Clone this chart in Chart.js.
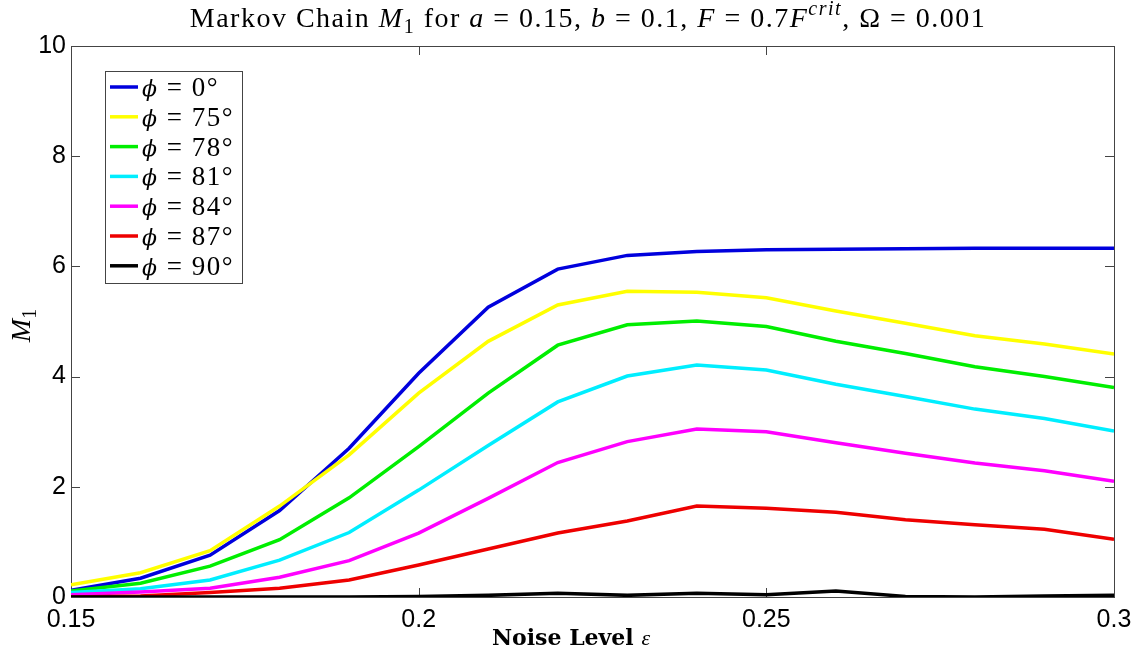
<!DOCTYPE html>
<html>
<head>
<meta charset="utf-8">
<script src="https://cdn.jsdelivr.net/npm/chart.js@4.4.1/dist/chart.umd.min.js"></script>
<style>
  html, body { margin: 0; padding: 0; background: #fff; }
  #wrap { width: 1142px; height: 659px; }
</style>
</head>
<body>
<div id="wrap"><canvas id="grafico" width="1142" height="659"></canvas></div>
<script>
// --- datos ---
const ruido = [0.15, 0.16, 0.17, 0.18, 0.19, 0.20, 0.21, 0.22, 0.23, 0.24, 0.25, 0.26, 0.27, 0.28, 0.29, 0.30];

const phi0  = [0.12, 0.34, 0.76, 1.57, 2.70, 4.06, 5.26, 5.95, 6.20, 6.27, 6.30, 6.31, 6.32, 6.33, 6.33, 6.33];
const phi75 = [0.22, 0.44, 0.84, 1.65, 2.58, 3.70, 4.64, 5.30, 5.55, 5.53, 5.43, 5.19, 4.97, 4.74, 4.59, 4.41];
const phi78 = [0.11, 0.25, 0.56, 1.04, 1.80, 2.73, 3.70, 4.57, 4.94, 5.01, 4.91, 4.64, 4.42, 4.18, 4.00, 3.80];
const phi81 = [0.08, 0.15, 0.31, 0.67, 1.17, 1.94, 2.75, 3.54, 4.01, 4.21, 4.12, 3.86, 3.64, 3.41, 3.24, 3.01];
const phi84 = [0.04, 0.09, 0.16, 0.36, 0.66, 1.16, 1.79, 2.44, 2.82, 3.05, 3.00, 2.80, 2.61, 2.43, 2.29, 2.10];
const phi87 = [0.00, 0.02, 0.08, 0.16, 0.31, 0.58, 0.87, 1.16, 1.38, 1.65, 1.61, 1.54, 1.40, 1.31, 1.23, 1.05];
const phi90 = [0.00, 0.00, 0.00, 0.00, 0.00, 0.01, 0.03, 0.07, 0.03, 0.07, 0.04, 0.11, 0.01, 0.00, 0.02, 0.03];

const angulos = ['0', '75', '78', '81', '84', '87', '90'];
const series = [phi0, phi75, phi78, phi81, phi84, phi87, phi90];
const colores = ['#0000dd', '#ffff00', '#00ee00', '#00eeff', '#ff00ff', '#ee0000', '#000000'];

const ticksX = [0.15, 0.2, 0.25, 0.3];
const ticksY = [0, 2, 4, 6, 8, 10];

const SERIF = '"Liberation Serif", "Times New Roman", serif';
const SANS = '"Liberation Sans", Arial, sans-serif';

// texto con cursiva / subíndice / superíndice
function fuentePieza(p, tam) {
    let t = p.s ? Math.round(tam * 0.7) : tam;
    if (p.z) t = Math.round(tam * p.z);
    return (p.i ? 'italic ' : '') + (p.b ? 'bold ' : '') + t + 'px ' + (p.f || SERIF);
}

function anchoRico(ctx, piezas, tam) {
    let total = 0;
    piezas.forEach(p => { ctx.font = fuentePieza(p, tam); total += ctx.measureText(p.t).width; });
    return total;
}

function textoRico(ctx, piezas, x, yBase, tam) {
    piezas.forEach(p => {
        ctx.font = fuentePieza(p, tam);
        let dy = 0;
        if (p.s === 'sub') dy = tam * 0.22;
        if (p.s === 'sup') dy = -tam * 0.42;
        ctx.fillText(p.t, x, yBase + dy);
        x += ctx.measureText(p.t).width;
    });
}

const titulo = [
    { t: 'Markov Chain ' }, { t: 'M', i: true }, { t: '1', s: 'sub' },
    { t: ' for ' }, { t: 'a', i: true }, { t: ' = 0.15, ' },
    { t: 'b', i: true }, { t: ' = 0.1, ' },
    { t: 'F', i: true }, { t: ' = 0.7' }, { t: 'F', i: true }, { t: 'crit', i: true, s: 'sup' },
    { t: ', Ω = 0.001' }
];

const tituloX = [
    { t: 'Noise Level ', b: true, f: '"DejaVu Serif", serif' }, { t: 'ε', i: true }
];

const tituloY = [{ t: 'M', i: true }, { t: '1', s: 'sub' }];

const decoracion = {
    id: 'decoracion',
    beforeDatasetsDraw(chart) {
        const { ctx, chartArea: a, scales } = chart;
        ctx.save();
        ctx.strokeStyle = '#444';
        ctx.lineWidth = 1;
        ctx.strokeRect(a.left + 0.5, a.top + 0.5, a.right - a.left, a.bottom - a.top);
        const largo = 9;
        ctx.beginPath();
        ticksX.forEach(v => {
            const px = Math.round(scales.x.getPixelForValue(v)) + 0.5;
            ctx.moveTo(px, a.bottom); ctx.lineTo(px, a.bottom - largo);
            ctx.moveTo(px, a.top); ctx.lineTo(px, a.top + largo);
        });
        ticksY.forEach(v => {
            const py = Math.round(scales.y.getPixelForValue(v)) + 0.5;
            ctx.moveTo(a.left, py); ctx.lineTo(a.left + largo, py);
            ctx.moveTo(a.right, py); ctx.lineTo(a.right - largo, py);
        });
        ctx.stroke();
        ctx.restore();
    },
    afterDraw(chart) {
        const { ctx, chartArea: a } = chart;
        ctx.save();
        ctx.fillStyle = '#000';
        ctx.textBaseline = 'alphabetic';

        // título (espaciado ancho tipo LaTeX)
        const tamT = 28;
        ctx.letterSpacing = '1.5px';
        textoRico(ctx, titulo, 588 - anchoRico(ctx, titulo, tamT) / 2, 27, tamT);
        ctx.letterSpacing = '0px';

        // título eje x
        const tamX = 22;
        textoRico(ctx, tituloX, 571 - anchoRico(ctx, tituloX, tamX) / 2, 645, tamX);

        // título eje y
        ctx.save();
        ctx.translate(30, (a.top + a.bottom) / 2 + 4);
        ctx.rotate(-Math.PI / 2);
        const tamY = 28;
        textoRico(ctx, tituloY, -anchoRico(ctx, tituloY, tamY) / 2, 0, tamY);
        ctx.restore();

        // leyenda dentro del área
        const lx = 105, ly = 71, lw = 137, lh = 212;
        ctx.fillStyle = '#fff';
        ctx.fillRect(lx, ly, lw, lh);
        ctx.strokeStyle = '#444';
        ctx.lineWidth = 1;
        ctx.strokeRect(lx + 0.5, ly + 0.5, lw, lh);
        const paso = 29.8;
        ctx.letterSpacing = '1.5px';
        chart.data.datasets.forEach((ds, i) => {
            const cy = 87 + i * paso;
            ctx.strokeStyle = ds.borderColor;
            ctx.lineWidth = 3.5;
            ctx.beginPath();
            ctx.moveTo(110, cy); ctx.lineTo(138, cy);
            ctx.stroke();
            ctx.fillStyle = '#000';
            const piezas = [{ t: 'ϕ', i: true, z: 0.82, f: '"DejaVu Serif", serif' }, { t: ' = ' + angulos[i] + '°' }];
            textoRico(ctx, piezas, 142, cy + 9, 27);
        });
        ctx.restore();
    }
};

const datasets = series.map((serie, i) => ({
    label: 'ϕ = ' + angulos[i] + '°',
    data: ruido.map((x, k) => ({ x: x, y: serie[k] })),
    borderColor: colores[i],
    backgroundColor: colores[i],
    borderWidth: 3.5,
    pointRadius: 0,
    tension: 0,
    order: series.length - i
}));

new Chart(document.getElementById('grafico'), {
    type: 'line',
    data: { datasets },
    options: {
        responsive: false,
        animation: false,
        layout: { padding: { left: 0, right: 28, top: 46, bottom: 0 } },
        plugins: {
            legend: { display: false },
            title: { display: false },
            tooltip: { enabled: false }
        },
        scales: {
            x: {
                type: 'linear',
                min: 0.15,
                max: 0.3,
                afterFit(s) { s.height = 62; },
                afterBuildTicks(s) { s.ticks = ticksX.map(v => ({ value: v })); },
                grid: { display: false, drawTicks: false },
                border: { display: false },
                ticks: {
                    font: { family: SANS, size: 25 },
                    color: '#000',
                    padding: 8,
                    maxRotation: 0,
                    autoSkip: false,
                    callback: v => String(v)
                }
            },
            y: {
                type: 'linear',
                min: 0,
                max: 10,
                afterFit(s) { s.width = 71; },
                afterBuildTicks(s) { s.ticks = ticksY.map(v => ({ value: v })); },
                grid: { display: false, drawTicks: false },
                border: { display: false },
                ticks: {
                    font: { family: SANS, size: 25 },
                    color: '#000',
                    padding: 5,
                    autoSkip: false,
                    callback: v => String(v)
                }
            }
        }
    },
    plugins: [decoracion]
});
</script>
</body>
</html>
